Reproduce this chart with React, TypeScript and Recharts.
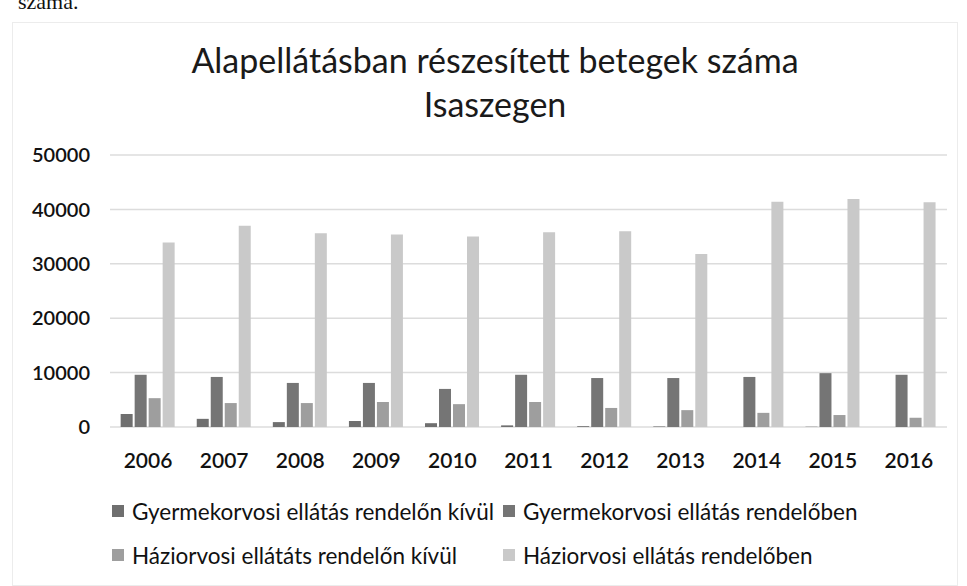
import { BarChart, Bar, XAxis, YAxis, CartesianGrid } from 'recharts';

const years = ['2006', '2007', '2008', '2009', '2010', '2011', '2012', '2013', '2014', '2015', '2016'];
const gyermekKivul = [2400, 1500, 900, 1100, 700, 300, 150, 100, 0, 50, 0];
const gyermekBen = [9600, 9200, 8100, 8100, 7000, 9600, 9000, 9000, 9200, 9900, 9600];
const haziKivul = [5300, 4400, 4400, 4600, 4200, 4600, 3500, 3100, 2600, 2200, 1700];
const haziBen = [33900, 37000, 35600, 35400, 35000, 35800, 36000, 31800, 41400, 41900, 41300];
const yTicks = [0, 10000, 20000, 30000, 40000, 50000];

const series = [
  { key: 'gyk', name: 'Gyermekorvosi ellátás rendelőn kívül', color: '#6f6f6f' },
  { key: 'gyb', name: 'Gyermekorvosi ellátás rendelőben', color: '#757575' },
  { key: 'hk', name: 'Háziorvosi ellátáts rendelőn kívül', color: '#9e9e9e' },
  { key: 'hb', name: 'Háziorvosi ellátás rendelőben', color: '#c9c9c9' },
];

const data = years.map((year, i) => ({
  year,
  gyk: gyermekKivul[i],
  gyb: gyermekBen[i],
  hk: haziKivul[i],
  hb: haziBen[i],
}));

const font = 'Lato, "Open Sans", sans-serif';

export default function App() {
  return (
    <div style={{ position: 'absolute', left: 0, top: 0, width: 967, height: 586, background: '#fff', overflow: 'hidden', fontFamily: font }}>
      <div style={{ position: 'absolute', left: 18, top: -10, fontFamily: '"Liberation Serif", serif', fontSize: 22, lineHeight: '24px', color: '#111' }}>száma.</div>
      <div style={{ position: 'absolute', left: 12, top: 22, width: 944, height: 562, border: '1px solid #ececec' }} />
      <div style={{ position: 'absolute', left: 95, top: 38, width: 800, textAlign: 'center', fontSize: 34, lineHeight: '44px', color: '#1a1a1a' }}>
        Alapellátásban részesített betegek száma
        <br />
        Isaszegen
      </div>
      <div style={{ position: 'absolute', left: 0, top: 0 }}>
        <BarChart
          width={967}
          height={586}
          data={data}
          margin={{ top: 155, right: 20, bottom: 129, left: 0 }}
          barCategoryGap="14%"
          barGap={2}
        >
          <CartesianGrid vertical={false} stroke="#dcdcdc" strokeWidth={1.5} />
          <XAxis
            dataKey="year"
            height={30}
            axisLine={false}
            tickLine={false}
            tickMargin={20}
            tick={{ fontSize: 21, fill: '#111', fontWeight: 600, fontFamily: font }}
          />
          <YAxis
            width={110}
            domain={[0, 50000]}
            ticks={yTicks}
            axisLine={false}
            tickLine={false}
            tickMargin={14}
            tick={{ fontSize: 20, fill: '#111', fontWeight: 600, fontFamily: font }}
          />
          {series.map(s => (
            <Bar key={s.key} dataKey={s.key} name={s.name} fill={s.color} isAnimationActive={false} />
          ))}
        </BarChart>
      </div>
      <div style={{ position: 'absolute', left: 112, top: 496, width: 820, display: 'grid', gridTemplateColumns: '391px 420px', rowGap: 14, fontSize: 22.5, color: '#111' }}>
        {series.map(s => (
          <div key={s.key} style={{ display: 'flex', alignItems: 'center', height: 30, whiteSpace: 'nowrap' }}>
            <span style={{ display: 'inline-block', width: 12, height: 12, background: s.color, marginRight: 8 }} />
            {s.name}
          </div>
        ))}
      </div>
    </div>
  );
}
